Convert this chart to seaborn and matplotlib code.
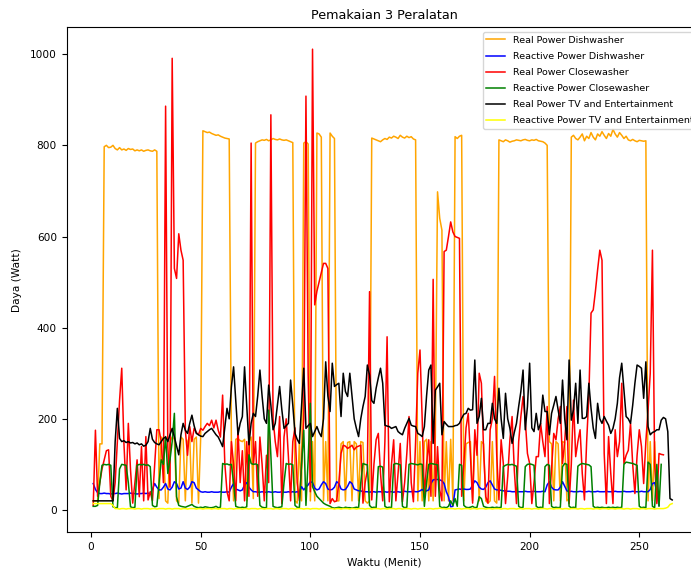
import numpy as np
import pandas as pd
import matplotlib
matplotlib.use("Agg")
import matplotlib.pyplot as plt
import seaborn as sns

title = "Pemakaian 3 Peralatan"
xlabel = "Waktu (Menit)"
ylabel = "Daya (Watt)"
labels = ["Real Power Dishwasher", "Reactive Power Dishwasher",
          "Real Power Closewasher", "Reactive Power Closewasher",
          "Real Power TV and Entertainment", "Reactive Power TV and Entertainment"]
colors = ["orange", "blue", "red", "green", "black", "yellow"]
xticks = [0, 50, 100, 150, 200, 250]
yticks = [0, 200, 400, 600, 800, 1000]

real_dish = [
    20, 20, 20, 145, 145, 797, 800, 795, 796, 800,
    793, 790, 795, 790, 792, 789, 793, 791, 792, 788,
    790, 788, 790, 787, 789, 790, 788, 787, 790, 787,
    25, 160, 155, 20, 15, 150, 160, 155, 20, 15,
    160, 155, 20, 150, 160, 15, 155, 160, 15, 160,
    832, 830, 828, 829, 826, 824, 822, 823, 820, 818,
    816, 815, 814, 150, 20, 155, 157, 152, 150, 155,
    20, 150, 160, 25, 805, 808, 810, 812, 811, 813,
    810, 812, 815, 813, 812, 814, 812, 811, 812, 810,
    808, 806, 20, 15, 150, 20, 805, 808, 803, 20,
    150, 20, 827, 825, 818, 20, 150, 20, 827, 820,
    815, 20, 20, 145, 150, 20, 148, 150, 20, 150,
    145, 20, 150, 148, 20, 15, 20, 816, 814, 812,
    810, 808, 812, 815, 813, 818, 816, 820, 818, 815,
    822, 818, 816, 820, 817, 819, 814, 812, 20, 150,
    20, 150, 155, 20, 150, 20, 160, 698, 640, 614,
    20, 150, 20, 155, 20, 819, 815, 820, 822, 20,
    145, 148, 150, 20, 150, 148, 20, 150, 145, 20,
    15, 20, 150, 20, 15, 812, 810, 808, 812, 810,
    807, 809, 810, 812, 811, 810, 812, 813, 811, 810,
    812, 811, 813, 810, 809, 808, 805, 800, 150, 145,
    20, 150, 145, 20, 150, 148, 20, 25, 818, 822,
    815, 812, 818, 825, 810, 820, 815, 828, 818, 812,
    825, 820, 830, 822, 815, 826, 820, 835, 825, 818,
    828, 822, 815, 820, 812, 810, 813, 810, 808, 811,
    810, 809, 810, 20, 150, 20, 150, 20,
]

reactive_dish = [
    58, 45, 38, 36, 36, 37, 36, 36, 35, 36,
    36, 37, 36, 35, 36, 36, 36, 37, 36, 36,
    35, 36, 36, 37, 36, 37, 36, 45, 58, 50,
    44, 44, 50, 58, 46, 44, 50, 62, 58, 46,
    48, 62, 48, 45, 50, 62, 60, 48, 44, 40,
    39, 40, 39, 39, 40, 39, 39, 39, 40, 39,
    39, 40, 39, 50, 58, 46, 44, 42, 44, 55,
    60, 50, 44, 40, 40, 39, 39, 40, 39, 39,
    40, 39, 39, 40, 39, 39, 40, 39, 39, 40,
    39, 40, 39, 40, 39, 51, 44, 50, 55, 62,
    60, 48, 44, 46, 55, 62, 58, 46, 44, 45,
    50, 62, 58, 46, 44, 45, 52, 62, 58, 46,
    44, 42, 42, 40, 40, 40, 39, 40, 40, 39,
    40, 40, 39, 40, 39, 40, 40, 39, 40, 40,
    39, 40, 41, 40, 40, 40, 41, 40, 40, 42,
    45, 40, 42, 44, 58, 66, 67, 67, 66, 64,
    58, 40, 29, 7, 8, 44, 45, 46, 45, 46,
    45, 45, 46, 55, 64, 60, 50, 46, 45, 50,
    60, 64, 55, 46, 44, 44, 43, 42, 42, 41,
    41, 40, 40, 41, 40, 40, 40, 41, 40, 40,
    40, 41, 40, 40, 40, 41, 40, 55, 62, 50,
    45, 44, 44, 50, 62, 52, 42, 40, 41, 40,
    40, 40, 41, 40, 40, 40, 41, 40, 40, 40,
    41, 40, 40, 40, 41, 40, 40, 40, 41, 40,
    40, 40, 41, 40, 40, 40, 41, 40, 40, 40,
    41, 40, 40, 40, 45, 58, 60, 40, 10,
]

real_clothes = [
    10, 175, 30, 60, 90, 110, 130, 132, 30, 20,
    60, 150, 240, 311, 146, 44, 190, 88, 15, 60,
    110, 29, 139, 20, 161, 22, 40, 20, 100, 176,
    176, 150, 60, 886, 139, 50, 991, 530, 508, 606,
    570, 548, 175, 120, 183, 150, 179, 170, 165, 179,
    175, 183, 190, 185, 197, 180, 197, 175, 160, 252,
    102, 40, 20, 150, 100, 20, 180, 60, 130, 20,
    150, 30, 805, 100, 150, 30, 160, 100, 20, 120,
    60, 867, 200, 150, 117, 205, 14, 160, 200, 117,
    20, 150, 180, 60, 20, 100, 200, 908, 300, 40,
    1011, 450, 480, 500, 520, 541, 541, 530, 14, 25,
    18, 20, 60, 124, 142, 140, 135, 138, 142, 132,
    138, 140, 142, 15, 60, 88, 479, 22, 100, 154,
    168, 80, 20, 150, 380, 18, 100, 154, 20, 80,
    146, 18, 60, 124, 205, 60, 18, 150, 300, 351,
    200, 29, 100, 154, 30, 506, 30, 139, 44, 20,
    567, 570, 600, 632, 610, 600, 598, 596, 30, 102,
    180, 212, 120, 15, 176, 120, 300, 278, 132, 29,
    15, 176, 200, 293, 120, 22, 154, 102, 14, 73,
    154, 205, 88, 14, 150, 205, 249, 198, 124, 102,
    14, 60, 117, 117, 190, 150, 117, 227, 14, 90,
    168, 154, 200, 227, 102, 150, 227, 14, 100, 241,
    117, 150, 176, 80, 22, 150, 249, 432, 439, 480,
    527, 570, 548, 124, 14, 161, 80, 14, 176, 117,
    150, 278, 102, 120, 131, 190, 100, 36, 120, 176,
    139, 58, 150, 219, 300, 570, 102, 14, 124, 122, 121,
]

reactive_clothes = [
    8, 8, 10, 60, 98, 100, 99, 100, 98, 7,
    5, 5, 90, 100, 99, 98, 60, 7, 5, 6,
    98, 100, 99, 100, 98, 99, 95, 10, 7, 8,
    60, 110, 100, 161, 80, 110, 150, 212, 29, 10,
    8, 7, 6, 8, 10, 12, 8, 6, 5, 6,
    5, 7, 6, 5, 5, 6, 8, 5, 6, 102,
    100, 101, 99, 100, 60, 8, 6, 5, 6, 5,
    7, 121, 102, 100, 101, 99, 10, 6, 5, 5,
    219, 120, 8, 6, 5, 6, 7, 60, 102, 100,
    101, 99, 10, 6, 5, 100, 175, 10, 110, 234,
    51, 40, 30, 25, 20, 15, 12, 10, 8, 5,
    4, 5, 6, 5, 4, 6, 5, 5, 4, 5,
    6, 5, 60, 102, 100, 99, 10, 5, 6, 5,
    95, 96, 94, 8, 5, 6, 5, 100, 102, 101,
    99, 8, 5, 6, 100, 102, 101, 100, 99, 101,
    100, 8, 60, 100, 102, 101, 100, 99, 8, 5,
    6, 5, 8, 20, 10, 25, 8, 100, 98, 10,
    6, 5, 6, 8, 5, 6, 29, 25, 8, 6,
    5, 5, 6, 5, 6, 5, 6, 95, 98, 100,
    99, 100, 98, 96, 8, 5, 6, 95, 100, 101,
    100, 98, 8, 5, 6, 5, 95, 100, 98, 8,
    5, 6, 5, 6, 95, 102, 100, 8, 5, 6,
    5, 96, 100, 102, 101, 100, 99, 95, 8, 5,
    6, 5, 6, 5, 5, 6, 5, 6, 5, 6,
    5, 6, 100, 105, 104, 103, 102, 100, 98, 8,
    5, 6, 5, 105, 100, 8, 5, 100, 8, 100,
]

real_tv = [
    20, 20, 20, 20, 20, 20, 20, 20, 20, 20,
    150, 223, 157, 150, 152, 148, 150, 147, 148, 145,
    147, 143, 145, 140, 142, 150, 179, 155, 148, 145,
    143, 150, 157, 160, 150, 165, 179, 160, 140, 121,
    165, 190, 175, 168, 190, 208, 185, 168, 165, 162,
    161, 168, 172, 176, 179, 172, 165, 160, 150, 139,
    180, 223, 200, 270, 314, 240, 165, 190, 205, 314,
    230, 143, 190, 212, 205, 250, 307, 250, 200, 190,
    274, 230, 176, 190, 230, 271, 220, 179, 185, 190,
    285, 230, 168, 155, 146, 230, 311, 179, 185, 190,
    161, 172, 183, 170, 161, 200, 325, 250, 216, 322,
    271, 275, 278, 205, 300, 260, 249, 300, 249, 200,
    179, 161, 200, 227, 249, 318, 296, 240, 234, 267,
    290, 311, 278, 186, 184, 183, 179, 181, 183, 172,
    168, 165, 179, 190, 201, 186, 184, 183, 168, 165,
    161, 183, 250, 307, 318, 146, 263, 270, 278, 165,
    194, 188, 183, 183, 183, 185, 186, 190, 201, 210,
    212, 223, 219, 220, 329, 190, 205, 245, 176, 176,
    190, 190, 234, 200, 190, 267, 200, 157, 256, 200,
    179, 146, 170, 190, 227, 260, 307, 176, 227, 322,
    180, 172, 212, 176, 190, 252, 216, 216, 165, 212,
    230, 249, 219, 190, 285, 200, 154, 329, 197, 220,
    278, 190, 307, 201, 201, 205, 278, 223, 180, 157,
    234, 200, 190, 205, 195, 186, 168, 179, 200, 234,
    290, 322, 263, 205, 200, 190, 230, 278, 318, 315,
    311, 245, 325, 183, 165, 170, 172, 176, 176, 197,
    203, 200, 172, 25, 22,
]

reactive_tv = [
    14, 14, 14, 14, 14, 14, 14, 14, 14, 10,
    3, 3, 2, 3, 3, 2, 3, 3, 3, 2,
    3, 3, 2, 3, 3, 3, 2, 3, 3, 2,
    3, 3, 3, 2, 3, 3, 2, 3, 3, 3,
    2, 3, 3, 2, 3, 3, 3, 2, 3, 3,
    2, 3, 3, 3, 2, 3, 3, 2, 3, 3,
    3, 2, 3, 3, 2, 3, 3, 3, 2, 3,
    3, 2, 3, 3, 3, 2, 3, 3, 2, 3,
    3, 3, 2, 3, 3, 2, 3, 3, 3, 2,
    3, 3, 2, 3, 3, 3, 2, 3, 3, 2,
    3, 3, 3, 2, 3, 3, 2, 3, 3, 3,
    2, 3, 3, 2, 3, 3, 3, 2, 3, 3,
    2, 3, 3, 3, 2, 3, 3, 2, 3, 3,
    3, 2, 3, 3, 2, 3, 3, 3, 2, 3,
    3, 2, 3, 3, 3, 2, 3, 3, 2, 3,
    3, 3, 2, 3, 3, 2, 3, 3, 4, 3,
    3, 2, 3, 3, 3, 2, 3, 3, 2, 3,
    3, 3, 2, 3, 3, 2, 3, 3, 3, 2,
    3, 3, 2, 3, 3, 3, 2, 3, 3, 2,
    3, 3, 3, 2, 3, 3, 2, 3, 3, 3,
    2, 3, 3, 2, 3, 3, 3, 2, 3, 3,
    2, 3, 3, 3, 2, 3, 3, 2, 3, 3,
    3, 2, 3, 3, 2, 3, 3, 3, 2, 3,
    3, 2, 3, 3, 3, 2, 3, 3, 2, 3,
    3, 3, 2, 3, 3, 2, 3, 3, 3, 2,
    3, 3, 2, 3, 3, 3, 2, 3, 3, 3,
    3, 4, 6, 12, 14,
]

series = [real_dish, reactive_dish, real_clothes, reactive_clothes, real_tv, reactive_tv]

plt.rcParams["font.family"] = ["DejaVu Sans"]
plt.rcParams["font.size"] = 7.6

fig = plt.figure(figsize=(6.91, 5.69), dpi=100)
ax = fig.add_axes([66.7 / 691, (569 - 532.3) / 569, (702 - 66.7) / 691, (532.3 - 27.3) / 569])

for vals, lab, col in zip(series, labels, colors):
    df = pd.DataFrame({"t": np.arange(1, len(vals) + 1), "v": vals})
    sns.lineplot(data=df, x="t", y="v", color=col, label=lab, ax=ax,
                 linewidth=1.1, estimator=None)

ax.set_xlim(-11.1, 278.6)
ax.set_ylim(-49, 1059)
ax.set_xticks(xticks)
ax.set_yticks(yticks)
ax.set_title(title, fontsize=9.2)
ax.set_xlabel(xlabel)
ax.set_ylabel(ylabel, labelpad=6)
ax.legend(loc="upper right", fontsize=6.8, labelspacing=0.75)

fig.savefig("out.png", dpi=100)
